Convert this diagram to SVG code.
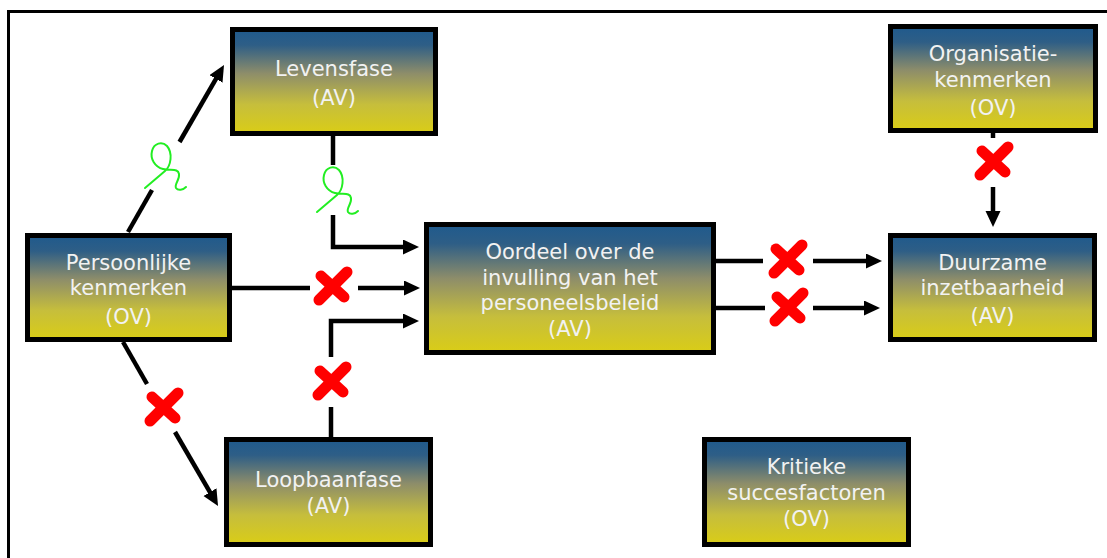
<svg xmlns="http://www.w3.org/2000/svg" width="1107" height="558" viewBox="0 0 1107 558">
<defs>
<linearGradient id="g" x1="0" y1="0" x2="0" y2="1">
<stop offset="0" stop-color="#1f5a8d"/>
<stop offset="0.15" stop-color="#2e5e86"/>
<stop offset="0.42" stop-color="#8d8d6a"/>
<stop offset="0.72" stop-color="#c6be3c"/>
<stop offset="1" stop-color="#dacd16"/>
</linearGradient>
<marker id="ah" markerUnits="userSpaceOnUse" markerWidth="16" markerHeight="16" refX="6" refY="7.5" orient="auto">
<path d="M0,0 L16,7.5 L0,15 z" fill="#000"/>
</marker>
<g id="x">
<path d="M-11,-11 L12,10" />
<path d="M15,-15 L-13,13" />
</g>
<path id="ok" d="M0,0 L20,-17 C26,-22 28,-35 22,-42 C17,-47 9,-45 7,-37 C5,-29 10,-21 18,-19 C26,-17 33,-20 34,-14 C35,-8 29,-4 31,0 C33,3 38,2 41,-1"/>
</defs>
<style>
.box{fill:url(#g);stroke:#000;stroke-width:5}
.t{font-family:"DejaVu Sans",Verdana,sans-serif;font-size:21px;fill:#f2f2f2;text-anchor:middle}
.c{fill:none;stroke:#000;stroke-width:4.5}
.a{marker-end:url(#ah)}
.cross{stroke:#f00;stroke-width:11;stroke-linecap:round;fill:none}
.check{fill:none;stroke:#22ee22;stroke-width:2;stroke-linecap:round;stroke-linejoin:round}
</style>
<rect x="0" y="0" width="1107" height="558" fill="#fff"/>
<rect x="8.5" y="11.5" width="1110" height="560" fill="none" stroke="#000" stroke-width="3"/>

<g id="connectors">
<path class="c" d="M128,232 L152,190"/>
<path class="c a" d="M179.5,142 L219,73.7"/>
<path class="c" d="M333,136 V165"/>
<path class="c a" d="M333,215 V247 H409"/>
<path class="c" d="M232,288 H310"/>
<path class="c a" d="M358,288 H410"/>
<path class="c" d="M331,437 V407"/>
<path class="c a" d="M331,357 V321 H409"/>
<path class="c" d="M123,342 L147,384"/>
<path class="c a" d="M175,432 L213,497.3"/>
<path class="c" d="M716,261 H763"/>
<path class="c a" d="M813,261 H872"/>
<path class="c" d="M710,308 H765"/>
<path class="c a" d="M813,308 H870"/>
<path class="c" d="M993,133 V138"/>
<path class="c a" d="M993,187 V217"/>
<use href="#x" class="cross" x="332" y="287"/>
<use href="#x" class="cross" x="331" y="382"/>
<use href="#x" class="cross" x="163" y="408"/>
<use href="#x" class="cross" x="787" y="260"/>
<use href="#x" class="cross" x="788" y="308"/>
<use href="#x" class="cross" x="993" y="162"/>
<use href="#ok" class="check" x="145" y="188"/>
<use href="#ok" class="check" x="317" y="212"/>
</g>

<g id="levensfase">
<rect class="box" x="232.5" y="29.5" width="203" height="104"/>
<text class="t" x="334" y="76">Levensfase</text>
<text class="t" x="334" y="104.5">(AV)</text>
</g>
<g id="persoonlijke">
<rect class="box" x="27.5" y="235.5" width="202" height="104"/>
<text class="t" x="128.5" y="269.5">Persoonlijke</text>
<text class="t" x="128.5" y="295">kenmerken</text>
<text class="t" x="128.5" y="323.5">(OV)</text>
</g>
<g id="oordeel">
<rect class="box" x="426.5" y="224.5" width="287" height="128"/>
<text class="t" x="570" y="259">Oordeel over de</text>
<text class="t" x="570" y="284.5">invulling van het</text>
<text class="t" x="570" y="310">personeelsbeleid</text>
<text class="t" x="570" y="335.5">(AV)</text>
</g>
<g id="organisatie">
<rect class="box" x="890.5" y="26.5" width="205" height="104"/>
<text class="t" x="993" y="61">Organisatie-</text>
<text class="t" x="993" y="86.7">kenmerken</text>
<text class="t" x="993" y="114.7">(OV)</text>
</g>
<g id="duurzame">
<rect class="box" x="890.5" y="235.5" width="204" height="104"/>
<text class="t" x="992.5" y="270">Duurzame</text>
<text class="t" x="992.5" y="294.5">inzetbaarheid</text>
<text class="t" x="992.5" y="323.4">(AV)</text>
</g>
<g id="loopbaanfase">
<rect class="box" x="226.5" y="439.5" width="204" height="105"/>
<text class="t" x="328.5" y="486.5">Loopbaanfase</text>
<text class="t" x="328.5" y="513">(AV)</text>
</g>
<g id="kritieke">
<rect class="box" x="704.5" y="439.5" width="204" height="105"/>
<text class="t" x="806.5" y="474">Kritieke</text>
<text class="t" x="806.5" y="500">succesfactoren</text>
<text class="t" x="806.5" y="526">(OV)</text>
</g>
</svg>
